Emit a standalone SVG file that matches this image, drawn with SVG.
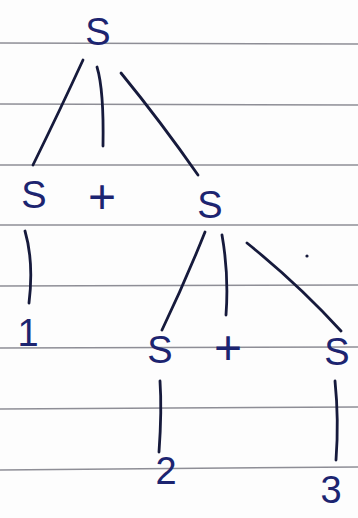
<svg xmlns="http://www.w3.org/2000/svg" width="358" height="518" viewBox="0 0 358 518">
<style>
.rule{stroke:#8e8e96;stroke-width:1.5;fill:none}
.edge{stroke:#161a3c;stroke-width:2.8;fill:none;stroke-linecap:round}
.t{font-family:"Liberation Sans",Arial,sans-serif;font-size:38px;fill:#1c2470;text-anchor:middle}
.p{font-size:48px}
</style>
<rect width="358" height="518" fill="#fdfdfd"/>
<g id="paper">
<line class="rule" x1="0" y1="43" x2="358" y2="44"/>
<line class="rule" x1="0" y1="104" x2="358" y2="105"/>
<line class="rule" x1="0" y1="165" x2="358" y2="165"/>
<line class="rule" x1="0" y1="225" x2="358" y2="225"/>
<line class="rule" x1="0" y1="286" x2="358" y2="285"/>
<line class="rule" x1="0" y1="348" x2="358" y2="347"/>
<line class="rule" x1="0" y1="409" x2="358" y2="407"/>
<line class="rule" x1="0" y1="470" x2="358" y2="467"/>
</g>
<g id="connectors">
<path class="edge" d="M83 60 Q60 110 33 165"/>
<path class="edge" d="M97 67 Q104 90 103 146"/>
<path class="edge" d="M121 73 Q161 122 198 175"/>
<path class="edge" d="M25 231 Q34 262 29 303"/>
<path class="edge" d="M205 232 Q185 282 162 330"/>
<path class="edge" d="M222 235 Q229 275 226 315"/>
<path class="edge" d="M247 243 Q298 284 341 331"/>
<path class="edge" d="M160 381 Q162 410 159 452"/>
<path class="edge" d="M335 381 Q339 420 336 460"/>
<circle cx="307" cy="256" r="1.6" fill="#161a3c"/>
</g>
<g id="n-root"><text class="t" x="98" y="45">S</text></g>
<g id="n-s1"><text class="t" x="34" y="208">S</text></g>
<g id="n-plus1"><text class="t p" x="102" y="213">+</text></g>
<g id="n-s2"><text class="t" x="210" y="218">S</text></g>
<g id="n-one"><text class="t" x="28" y="346">1</text></g>
<g id="n-s3"><text class="t" x="160" y="363">S</text></g>
<g id="n-plus2"><text class="t p" x="228" y="364">+</text></g>
<g id="n-s4"><text class="t" x="337" y="365">S</text></g>
<g id="n-two"><text class="t" x="166" y="484">2</text></g>
<g id="n-three"><text class="t" x="331" y="503">3</text></g>
</svg>
